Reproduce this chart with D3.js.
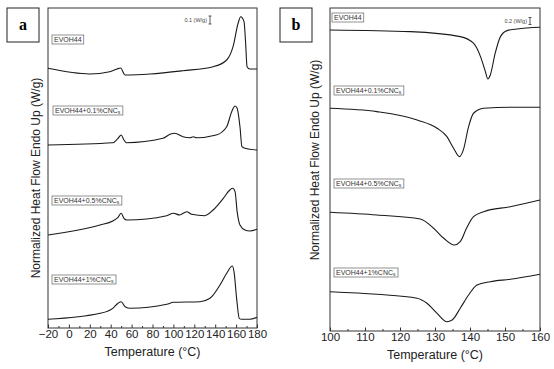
<!DOCTYPE html>
<html>
<head>
<meta charset="utf-8">
<script src="https://cdn.jsdelivr.net/npm/d3@7"></script>
<style>
  body { margin: 0; background: #fff; }
  svg { display: block; font-family: "Liberation Sans", Arial, sans-serif; }
  .axis path { stroke: #333; }
  .axis line { stroke: #333; }
  .axis text { font-size: 11.5px; fill: #222; }
</style>
</head>
<body>
<svg id="chart" width="554" height="369"></svg>
<script>
// panel a: temperature (°C) and heat flow (W/g, curves offset vertically)
var tempA1 = [-20, 20, 39, 46, 49.5, 53.7, 77.6, 109, 138, 151, 157, 162, 164.4, 167.6, 169, 170.5, 173, 180];
var flowA1 = [3.246, 3.175, 3.204, 3.238, 3.250, 3.163, 3.175, 3.216, 3.266, 3.350, 3.513, 3.813, 3.891, 3.829, 3.588, 3.266, 3.238, 3.238];

var tempA2 = [-20, 42, 47, 50, 52.7, 55, 90, 96.7, 101.5, 109, 116, 119, 122, 141, 151, 155.8, 159, 161, 163.7, 165.6, 168.5, 180];
var flowA2 = [2.288, 2.316, 2.371, 2.413, 2.350, 2.316, 2.371, 2.421, 2.434, 2.391, 2.379, 2.391, 2.379, 2.413, 2.516, 2.704, 2.775, 2.746, 2.516, 2.266, 2.246, 2.225];

var tempA3 = [-20, 29.8, 42, 47, 50, 52.7, 55.3, 93.6, 100, 106, 112.7, 117.5, 130, 138, 147.8, 154, 156.7, 159, 161, 163.7, 168.5, 173, 180];
var flowA3 = [1.163, 1.288, 1.338, 1.384, 1.434, 1.371, 1.350, 1.404, 1.434, 1.413, 1.454, 1.421, 1.404, 1.475, 1.621, 1.725, 1.746, 1.704, 1.454, 1.288, 1.225, 1.213, 1.234];

var tempA4 = [-20, 29.8, 42, 47, 50, 53.8, 58.6, 93.6, 100, 125.5, 135, 144.6, 151, 156.4, 158, 160.5, 163, 165.3, 173, 180];
var flowA4 = [0.109, 0.184, 0.246, 0.309, 0.329, 0.266, 0.246, 0.296, 0.321, 0.329, 0.371, 0.538, 0.684, 0.775, 0.704, 0.371, 0.121, 0.109, 0.109, 0.134];

// panel b: cooling scans
var tempB1 = [100, 123, 137.2, 141, 143, 144.4, 145.1, 145.8, 147.2, 148.7, 150.6, 153.4, 160];
var flowB1 = [8.575, 8.527, 8.385, 8.197, 7.815, 7.387, 7.179, 7.293, 7.912, 8.385, 8.556, 8.604, 8.652];

var tempB2 = [100, 113.4, 124.9, 130.6, 133.4, 135.3, 137, 138.1, 139.6, 141, 143.9, 151.5, 160];
var flowB2 = [6.345, 6.248, 6.011, 5.775, 5.536, 5.205, 4.966, 5.157, 5.821, 6.202, 6.345, 6.373, 6.373];

var tempB3 = [100, 113.4, 125.8, 129.6, 132.5, 135.5, 137.2, 139, 141, 143.9, 151.5, 160];
var flowB3 = [3.382, 3.305, 3.191, 2.926, 2.641, 2.450, 2.544, 2.926, 3.256, 3.399, 3.541, 3.732];

var tempB4 = [100, 113.4, 124.9, 127.7, 130.6, 133.4, 134.9, 137.2, 139.6, 142, 145.8, 151.5, 160];
var flowB4 = [1.120, 1.046, 0.932, 0.789, 0.504, 0.265, 0.313, 0.647, 1.026, 1.311, 1.405, 1.473, 1.615];

var seriesNames = ["EVOH44", "EVOH44+0.1%CNC", "EVOH44+0.5%CNC", "EVOH44+1%CNC"];
var ticksA = [-20, 0, 20, 40, 60, 80, 100, 120, 140, 160, 180];
var ticksB = [100, 110, 120, 130, 140, 150, 160];

var svg = d3.select("#chart");

function zip(t, v) {
  return t.map(function(d, i) { return { t: d, v: v[i] }; });
}

var drawPanel = function(opt) {
  var x = d3.scaleLinear().domain(opt.xDomain).range([opt.left, opt.right]);
  var y = d3.scaleLinear().domain(opt.yDomain).range([opt.bottom, opt.top]);

  var g = svg.append("g");

  // minor ticks
  g.append("g")
    .attr("class", "axis")
    .attr("transform", "translate(0," + opt.bottom + ")")
    .call(d3.axisBottom(x).tickValues(opt.minor).tickSize(-2).tickFormat(""))
    .select(".domain").remove();

  g.append("g")
    .attr("class", "axis")
    .attr("transform", "translate(0," + opt.bottom + ")")
    .call(d3.axisBottom(x).tickValues(opt.ticks).tickSize(-3.5).tickPadding(2).tickFormat(d3.format("d")))
    .select(".domain").remove();

  g.append("rect")
    .attr("x", opt.left)
    .attr("y", opt.top)
    .attr("width", opt.right - opt.left)
    .attr("height", opt.bottom - opt.top)
    .style("fill", "none")
    .style("stroke", "#333")
    .style("stroke-width", 1);

  var line = d3.line()
    .x(function(d) { return x(d.t); })
    .y(function(d) { return y(d.v); })
    .curve(d3.curveMonotoneX);

  opt.curves.forEach(function(c) {
    g.append("path")
      .datum(c)
      .attr("d", line)
      .style("fill", "none")
      .style("stroke", "#1a1a1a")
      .style("stroke-width", 1.1);
  });

  // series labels in small boxes
  opt.labels.forEach(function(l, i) {
    var lg = g.append("g").attr("transform", "translate(" + l[0] + "," + l[1] + ")");
    var txt = lg.append("text")
      .attr("x", 2)
      .attr("y", 6.5)
      .style("font-size", "7px")
      .style("fill", "#333");
    txt.append("tspan").text(seriesNames[i]);
    if (i > 0) {
      txt.append("tspan").attr("dy", 1.5).style("font-size", "5px").text("s");
    }
    var bb = txt.node().getBBox();
    lg.insert("rect", "text")
      .attr("x", 0)
      .attr("y", 0)
      .attr("width", bb.width + 4)
      .attr("height", 9)
      .style("fill", "#fff")
      .style("stroke", "#777")
      .style("stroke-width", 0.8);
  });

  // scale bar
  var sx = opt.barX, sy = y(opt.barTop);
  var sy2 = y(opt.barTop - opt.barSize);
  g.append("text")
    .attr("x", sx - 3)
    .attr("y", (sy + sy2) / 2 + 2)
    .style("font-size", "5.5px")
    .style("fill", "#444")
    .style("text-anchor", "end")
    .text(opt.barLabel);
  g.append("path")
    .attr("d", "M" + sx + "," + sy + "V" + sy2 + "M" + (sx - 1.5) + "," + sy + "H" + (sx + 1.5) + "M" + (sx - 1.5) + "," + sy2 + "H" + (sx + 1.5))
    .style("stroke", "#333")
    .style("stroke-width", 0.8)
    .style("fill", "none");

  // axis titles
  g.append("text")
    .attr("x", (opt.left + opt.right) / 2)
    .attr("y", opt.bottom + 28)
    .style("font-size", "12.5px")
    .style("fill", "#222")
    .style("text-anchor", "middle")
    .text("Temperature (°C)");

  g.append("text")
    .attr("transform", "translate(" + opt.yTitleX + "," + opt.yTitleY + ") rotate(-90)")
    .style("font-size", "12px")
    .style("fill", "#222")
    .style("text-anchor", "middle")
    .text("Normalized Heat Flow Endo Up (W/g)");

  // panel letter
  var pg = g.append("g").attr("transform", "translate(" + opt.letterX + ",8)");
  pg.append("rect")
    .attr("width", 32)
    .attr("height", 34)
    .style("fill", "#fff")
    .style("stroke", "#222")
    .style("stroke-width", 1);
  pg.append("text")
    .attr("x", 16)
    .attr("y", 22)
    .style("font-family", "'Liberation Serif', 'DejaVu Serif', serif")
    .style("font-weight", "bold")
    .style("font-size", "16px")
    .style("text-anchor", "middle")
    .text(opt.letter);
};

drawPanel({
  left: 48, right: 257, top: 8, bottom: 328,
  xDomain: [-20, 180], yDomain: [0, 4],
  ticks: ticksA, minor: d3.range(-10, 180, 20),
  curves: [zip(tempA1, flowA1), zip(tempA2, flowA2), zip(tempA3, flowA3), zip(tempA4, flowA4)],
  labels: [[52, 35], [53, 106], [52, 196], [52, 275]],
  barX: 210, barTop: 3.9, barSize: 0.1, barLabel: "0.1 (W/g)",
  yTitleX: 40, yTitleY: 178,
  letter: "a", letterX: 7
});

drawPanel({
  left: 330, right: 540, top: 8, bottom: 331,
  xDomain: [100, 160], yDomain: [0, 9.2],
  ticks: ticksB, minor: d3.range(105, 160, 10),
  curves: [zip(tempB1, flowB1), zip(tempB2, flowB2), zip(tempB3, flowB3), zip(tempB4, flowB4)],
  labels: [[332, 13], [334, 86], [334, 179], [334, 268]],
  barX: 530, barTop: 8.93, barSize: 0.2, barLabel: "0.2 (W/g)",
  yTitleX: 319, yTitleY: 160,
  letter: "b", letterX: 280
});
</script>
</body>
</html>
